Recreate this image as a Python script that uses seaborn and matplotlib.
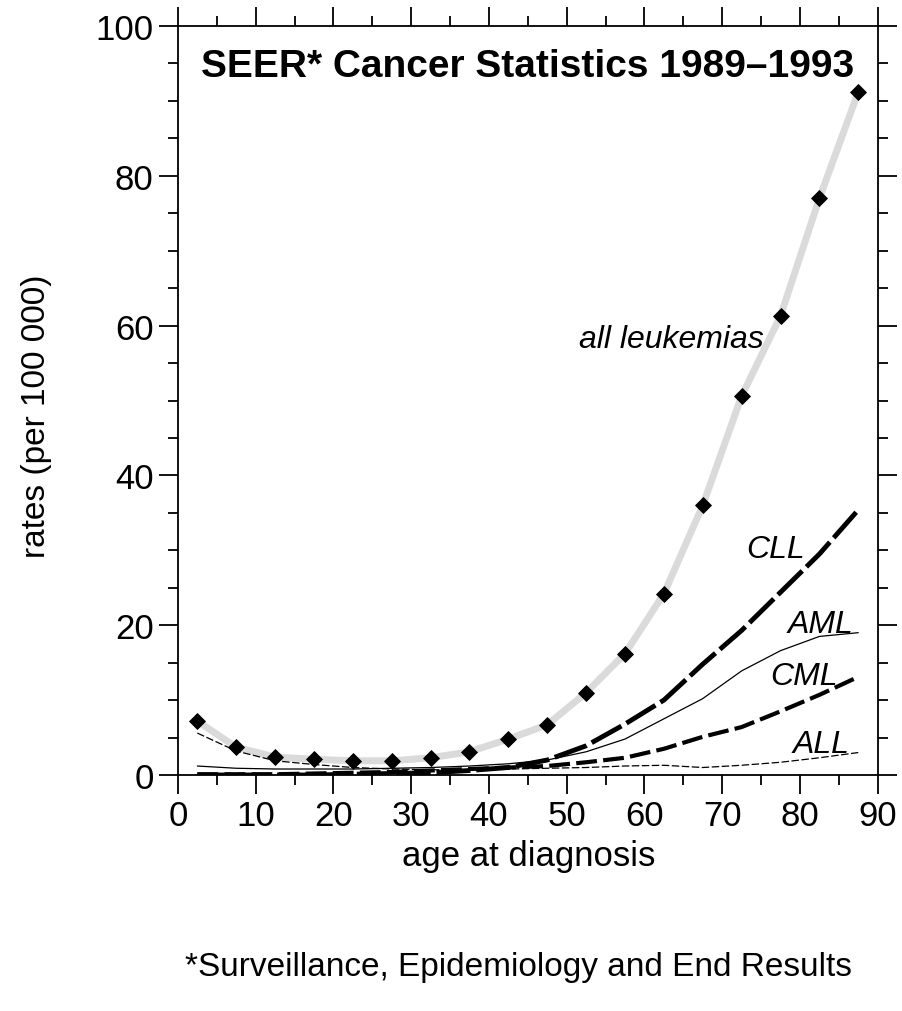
import numpy as np
import pandas as pd
import matplotlib
matplotlib.use('Agg')
import matplotlib.pyplot as plt
import seaborn as sns
from matplotlib.ticker import MultipleLocator

sns.set_theme(style='ticks')
plt.rcParams['font.family'] = ['Liberation Sans', 'DejaVu Sans']
plt.rcParams['text.color'] = 'black'
plt.rcParams['axes.labelcolor'] = 'black'
plt.rcParams['xtick.color'] = 'black'
plt.rcParams['ytick.color'] = 'black'

# 年龄组中点 (5岁一组)
ages = [2.5, 7.5, 12.5, 17.5, 22.5, 27.5, 32.5, 37.5, 42.5,
        47.5, 52.5, 57.5, 62.5, 67.5, 72.5, 77.5, 82.5, 87.5]

# 每10万人发病率
all_leuk = [7.2, 3.7, 2.4, 2.1, 1.9, 1.9, 2.3, 3.1, 4.8,
            6.7, 11.0, 16.2, 24.2, 36.0, 50.6, 61.3, 77.0, 91.2]
cll = [0.0, 0.0, 0.0, 0.0, 0.1, 0.2, 0.3, 0.6, 1.0,
       2.0, 3.9, 6.8, 10.0, 14.8, 19.3, 24.4, 29.5, 35.4]
aml = [1.2, 0.9, 0.8, 0.8, 0.8, 0.9, 1.0, 1.2, 1.5,
       2.0, 3.1, 4.8, 7.5, 10.2, 13.9, 16.6, 18.5, 19.0]
cml = [0.1, 0.1, 0.1, 0.2, 0.3, 0.4, 0.6, 0.8, 1.0,
       1.2, 1.7, 2.3, 3.5, 5.1, 6.4, 8.5, 10.7, 13.1]
all_ = [5.6, 3.2, 1.9, 1.4, 1.0, 0.8, 0.7, 0.7, 0.8,
        0.9, 1.0, 1.2, 1.3, 1.0, 1.3, 1.7, 2.3, 3.0]

x_ticks = [0, 10, 20, 30, 40, 50, 60, 70, 80, 90]
y_ticks = [0, 20, 40, 60, 80, 100]

df = pd.DataFrame({'age': ages, 'all': all_leuk, 'CLL': cll,
                   'AML': aml, 'CML': cml, 'ALL': all_})

fig = plt.figure(figsize=(9.03, 10.12), dpi=100)
ax = fig.add_axes([0.197, 0.2332, 0.775, 0.7401])

# 所有白血病: 灰色粗线 + 黑色菱形
sns.lineplot(data=df, x='age', y='all', ax=ax, color='#dadada', linewidth=5,
             zorder=2)
sns.scatterplot(data=df, x='age', y='all', ax=ax, marker='D', color='black',
                s=65, edgecolor='black', zorder=5)

# 各亚型
sns.lineplot(data=df, x='age', y='CLL', ax=ax, color='black', linewidth=3.5,
             zorder=4).lines[-1].set_dashes((7, 1.2))
sns.lineplot(data=df, x='age', y='AML', ax=ax, color='black', linewidth=0.9,
             zorder=3)
sns.lineplot(data=df, x='age', y='CML', ax=ax, color='black', linewidth=3,
             zorder=3).lines[-1].set_dashes((5, 1.5))
sns.lineplot(data=df, x='age', y='ALL', ax=ax, color='black', linewidth=0.9,
             zorder=3).lines[-1].set_dashes((6, 2))

ax.set_xlim(0, 90)
ax.set_ylim(0, 100)
ax.set_xticks(x_ticks)
ax.set_yticks(y_ticks)
ax.xaxis.set_minor_locator(MultipleLocator(5))
ax.yaxis.set_minor_locator(MultipleLocator(5))
ax.tick_params(which='both', direction='out', top=True, right=True,
               width=1.3, colors='black', labelsize=25)
ax.tick_params(which='major', length=14)
ax.tick_params(which='minor', length=7)
for s in ax.spines.values():
    s.set_linewidth(1.3)
    s.set_color('black')

ax.set_xlabel('age at diagnosis', fontsize=25)
ax.xaxis.set_label_coords(0.501, -0.085)
ax.set_ylabel('rates (per 100 000)', fontsize=24)
ax.yaxis.set_label_coords(-0.18, 0.48)

ax.text(45, 94.6, 'SEER* Cancer Statistics 1989\u20131993', ha='center',
        va='center', fontsize=28, fontweight='bold')

lab_kw = dict(fontsize=23, style='italic', ha='right', va='center')
ax.text(75.4, 58.2, 'all leukemias', **lab_kw)
ax.text(80.6, 30.2, 'CLL', **lab_kw)
ax.text(86.8, 20.2, 'AML', **lab_kw)
ax.text(84.8, 13.2, 'CML', **lab_kw)
ax.text(86.4, 4.2, 'ALL', **lab_kw)

fig.text(0.574, 0.0435, '*Surveillance, Epidemiology and End Results',
         ha='center', va='center', fontsize=24)

fig.savefig('out.png', dpi=100)
